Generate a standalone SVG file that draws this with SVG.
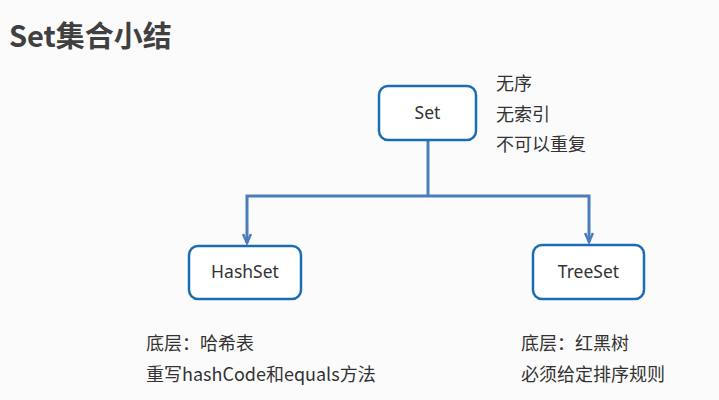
<svg xmlns="http://www.w3.org/2000/svg" width="719" height="400" viewBox="0 0 719 400">
<style>
.bg{fill:#fbfbfb}
.box{fill:#ffffff;stroke:#1b6db3;stroke-width:2.5}
.lbl{font-family:"Noto Sans","Noto Sans CJK SC",sans-serif;font-size:17.5px;fill:#333333;text-anchor:middle}
.txt{font-family:"Noto Sans CJK SC","Noto Sans",sans-serif;font-size:18px;fill:#333333}
.title{font-family:"Noto Sans CJK SC","Noto Sans",sans-serif;font-size:29px;font-weight:bold;fill:#404040}
.conn{fill:none;stroke:#4a7ebb;stroke-width:3}
</style>
<defs>
<marker id="arr" viewBox="0 0 12 10" refX="10" refY="5" markerWidth="12" markerHeight="10" markerUnits="userSpaceOnUse" orient="auto">
<path d="M1,1 L10,5 L1,9" fill="none" stroke="#4a7ebb" stroke-width="2.5"/>
</marker>
</defs>
<rect class="bg" x="0" y="0" width="719" height="400"/>
<text class="title" x="9" y="47">Set集合小结</text>
<g id="connectors">
<path class="conn" d="M428,140 V196"/>
<path class="conn" d="M428,196 H247 V243" marker-end="url(#arr)"/>
<path class="conn" d="M428,196 H589 V242" marker-end="url(#arr)"/>
</g>
<g id="set">
<rect class="box" x="379" y="86" width="97" height="54" rx="9"/>
<text class="lbl" x="427.5" y="119">Set</text>
</g>
<g id="set-notes">
<text class="txt" x="496" y="90">无序</text>
<text class="txt" x="496" y="121">无索引</text>
<text class="txt" x="496" y="151">不可以重复</text>
</g>
<g id="hashset">
<rect class="box" x="189" y="246" width="112" height="53" rx="9"/>
<text class="lbl" x="245" y="278">HashSet</text>
</g>
<g id="treeset">
<rect class="box" x="533" y="245" width="111" height="54" rx="9"/>
<text class="lbl" x="588.5" y="278">TreeSet</text>
</g>
<g id="hashset-notes">
<text class="txt" x="146" y="350">底层：哈希表</text>
<text class="txt" x="146" y="381">重写hashCode和equals方法</text>
</g>
<g id="treeset-notes">
<text class="txt" x="521" y="350">底层：红黑树</text>
<text class="txt" x="521" y="381">必须给定排序规则</text>
</g>
</svg>
